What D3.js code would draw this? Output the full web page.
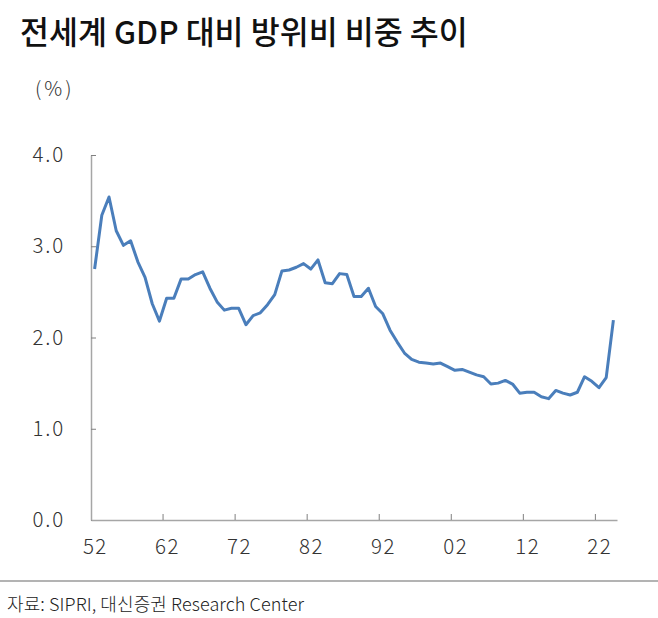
<!DOCTYPE html>
<html>
<head>
<meta charset="utf-8">
<script src="https://cdn.jsdelivr.net/npm/d3@7"></script>
<style>
  body { margin: 0; background: #fff; }
  svg text { font-family: "Noto Sans CJK KR", "Noto Sans", sans-serif; }
</style>
</head>
<body>
<div id="chart"></div>
<script>
// categories: years 1952 - 2024
var years = [1952, 1953, 1954, 1955, 1956, 1957, 1958, 1959, 1960, 1961,
  1962, 1963, 1964, 1965, 1966, 1967, 1968, 1969, 1970, 1971,
  1972, 1973, 1974, 1975, 1976, 1977, 1978, 1979, 1980, 1981,
  1982, 1983, 1984, 1985, 1986, 1987, 1988, 1989, 1990, 1991,
  1992, 1993, 1994, 1995, 1996, 1997, 1998, 1999, 2000, 2001,
  2002, 2003, 2004, 2005, 2006, 2007, 2008, 2009, 2010, 2011,
  2012, 2013, 2014, 2015, 2016, 2017, 2018, 2019, 2020, 2021,
  2022, 2023, 2024];

// world military expenditure, % of GDP
var share = [2.75, 3.34, 3.54, 3.17, 3.01, 3.06, 2.83, 2.66, 2.37, 2.18,
  2.43, 2.43, 2.64, 2.64, 2.69, 2.72, 2.54, 2.39, 2.30, 2.32,
  2.32, 2.14, 2.24, 2.27, 2.36, 2.47, 2.73, 2.74, 2.77, 2.81,
  2.75, 2.85, 2.60, 2.59, 2.70, 2.69, 2.45, 2.45, 2.54, 2.34,
  2.26, 2.08, 1.95, 1.83, 1.76, 1.73, 1.72, 1.71, 1.72, 1.68,
  1.64, 1.65, 1.62, 1.59, 1.57, 1.49, 1.50, 1.53, 1.49, 1.39,
  1.40, 1.40, 1.35, 1.33, 1.42, 1.39, 1.37, 1.40, 1.57, 1.52,
  1.45, 1.56, 2.19];

var tickYears = [1952, 1962, 1972, 1982, 1992, 2002, 2012, 2022];
var tickLabels = ["52", "62", "72", "82", "92", "02", "12", "22"];
var yTicks = [0, 1, 2, 3, 4];

var width = 658, height = 618;
var plotLeft = 91, plotRight = 617, plotTop = 155, plotBottom = 520;

var svg = d3.select("#chart")
  .append("svg")
  .attr("width", width)
  .attr("height", height);

// title
svg.append("text")
  .attr("x", 20)
  .attr("y", 44)
  .attr("font-size", "31.5px")
  .attr("font-weight", 500)
  .attr("fill", "#111")
  .text("전세계 GDP 대비 방위비 비중 추이");

svg.append("text")
  .attr("x", 35)
  .attr("y", 96)
  .attr("font-size", "20px")
  .attr("font-weight", 300)
  .attr("letter-spacing", "3px")
  .attr("fill", "#333")
  .text("(%)");

// scales
var x = d3.scaleBand().domain(years).range([plotLeft, plotRight]).padding(0);
var y = d3.scaleLinear().domain([0, 4]).range([plotBottom, plotTop]);

// y axis
var yAxis = d3.axisLeft(y)
  .tickValues(yTicks)
  .tickFormat(d3.format(".1f"))
  .tickSizeInner(-5)
  .tickSizeOuter(0)
  .tickPadding(26);

var gy = svg.append("g")
  .attr("transform", "translate(" + plotLeft + ",0)")
  .call(yAxis);
gy.select(".domain").attr("stroke", "#a6a6a6").attr("stroke-width", 1.5);
gy.selectAll(".tick line").attr("stroke", "#808080");
gy.selectAll(".tick text")
  .attr("font-size", "20.5px")
  .attr("font-weight", 300)
  .attr("letter-spacing", "1.8px")
  .attr("fill", "#333")
  .style("font-family", "'Noto Sans CJK KR', sans-serif");

// x axis: labels at category centres, tick marks at category edges
var xAxis = d3.axisBottom(x)
  .tickValues(tickYears)
  .tickFormat(function (d, i) { return tickLabels[i]; })
  .tickSize(0)
  .tickPadding(19);

var gx = svg.append("g")
  .attr("transform", "translate(0," + plotBottom + ")")
  .call(xAxis);
gx.select(".domain").attr("stroke", "#a6a6a6").attr("stroke-width", 1.5);
gx.selectAll(".tick text")
  .attr("font-size", "20.5px")
  .attr("font-weight", 300)
  .attr("letter-spacing", "1.5px")
  .attr("dx", "0.75px")
  .attr("fill", "#333")
  .style("font-family", "'Noto Sans CJK KR', sans-serif");

svg.append("g")
  .selectAll("line")
  .data(tickYears.slice(1))
  .enter()
  .append("line")
  .attr("x1", function (d) { return x(d); })
  .attr("x2", function (d) { return x(d); })
  .attr("y1", plotBottom)
  .attr("y2", plotBottom - 6)
  .attr("stroke", "#808080")
  .attr("stroke-width", 1);

// line
var line = d3.line()
  .x(function (d, i) { return x(years[i]) + x.bandwidth() / 2; })
  .y(function (d) { return y(d); });

svg.append("path")
  .datum(share)
  .attr("d", line)
  .attr("fill", "none")
  .attr("stroke", "#4a7ebb")
  .attr("stroke-width", 3)
  .attr("stroke-linejoin", "round");

// source
svg.append("line")
  .attr("x1", 0).attr("x2", width)
  .attr("y1", 581).attr("y2", 581)
  .attr("stroke", "#b3b3b3")
  .attr("stroke-width", 2);

svg.append("text")
  .attr("x", 7)
  .attr("y", 611)
  .attr("font-size", "18px")
  .attr("font-weight", 300)
  .attr("letter-spacing", "0.1px")
  .attr("fill", "#222")
  .text("자료: SIPRI, 대신증권 Research Center");
</script>
</body>
</html>
